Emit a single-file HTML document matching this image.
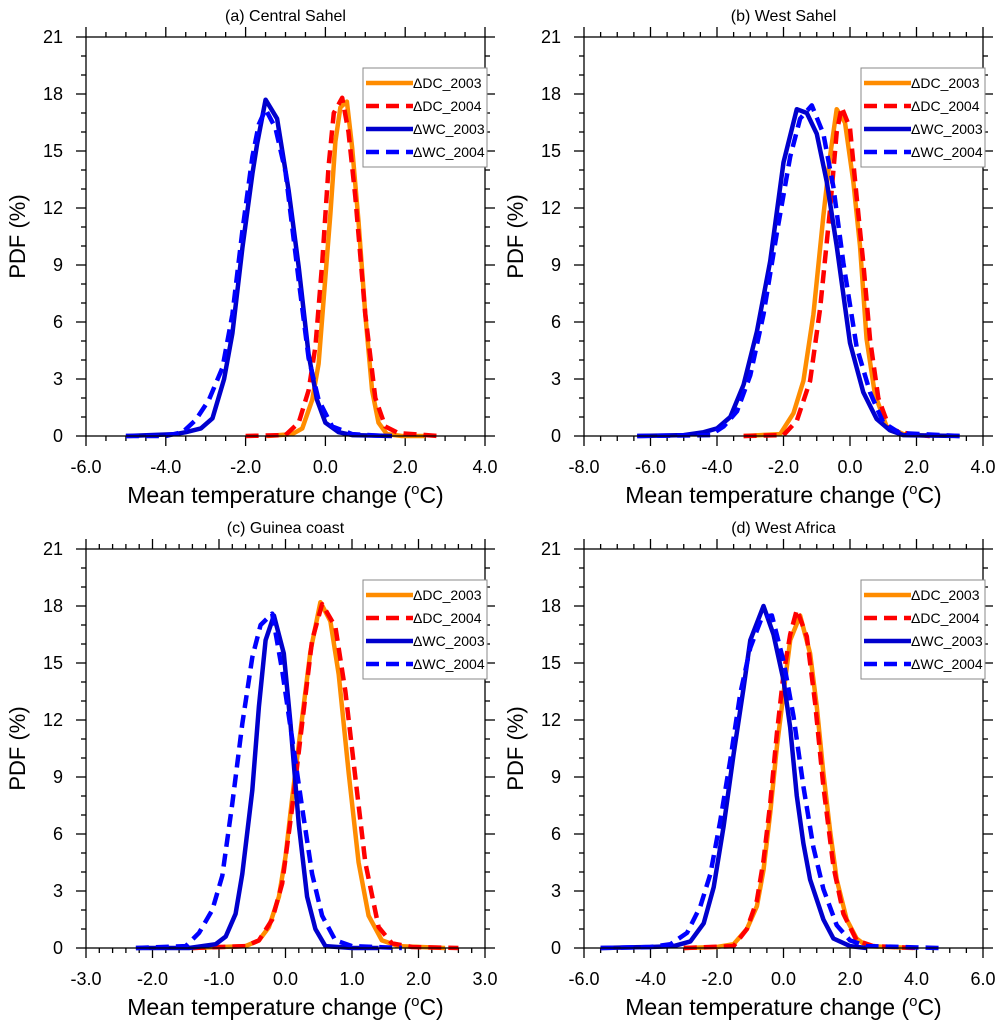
<!DOCTYPE html>
<html><head><meta charset="utf-8"><style>
html,body{margin:0;padding:0;background:#fff;}
svg{display:block;font-family:"Liberation Sans",Arial,sans-serif;}
</style></head><body>
<svg id="fig" width="1005" height="1032" viewBox="0 0 1005 1032" xmlns="http://www.w3.org/2000/svg"></svg>
<script>
// ---- Panel (a) Central Sahel ----
const aDC03x=[-1.46,-0.83,-0.58,-0.33,-0.17,-0.04,0.125,0.25,0.375,0.54,0.67,0.83,1.0,1.17,1.33,1.54,1.92,2.5];
const aDC03y=[0,0.1,0.4,1.9,3.8,7.3,11.7,15.5,17.3,17.6,15.2,11.3,6.4,2.4,0.7,0.1,0,0];
const aDC04x=[-2.0,-1.0,-0.67,-0.42,-0.25,-0.08,0.08,0.21,0.42,0.58,0.75,1.0,1.25,1.5,1.83,2.83];
const aDC04y=[0,0.05,0.7,2.4,4.7,9.1,14.2,17.0,17.8,16.0,12.6,6.4,2.0,0.5,0.15,0];
const aWC03x=[-5.0,-3.75,-3.5,-3.12,-2.83,-2.54,-2.33,-2.08,-1.83,-1.71,-1.5,-1.21,-0.92,-0.67,-0.42,-0.21,0,0.33,0.67,1.67];
const aWC03y=[0,0.1,0.2,0.4,0.93,3.0,5.4,9.9,13.8,15.4,17.7,16.7,12.9,8.9,4.3,1.9,0.7,0.2,0.05,0];
const aWC04x=[-5.0,-4.0,-3.58,-3.25,-2.92,-2.58,-2.33,-2.08,-1.83,-1.67,-1.5,-1.25,-1.0,-0.67,-0.42,-0.17,0.17,0.67,1.5];
const aWC04y=[0,0,0.2,0.84,1.9,3.6,6.4,10.8,14.7,16.4,17.2,16.2,13.9,8.2,4.1,1.9,0.5,0.1,0];
// ---- Panel (b) West Sahel ----
const bDC03x=[-3.2,-2.1,-1.7,-1.4,-1.1,-0.8,-0.6,-0.4,-0.15,0.1,0.3,0.5,0.75,1.1,1.6,2.4];
const bDC03y=[0,0.1,1.2,2.9,6.4,11.6,14.7,17.2,16.5,13.4,10.0,5.1,2.2,0.5,0.1,0];
const bDC04x=[-3.2,-2.0,-1.6,-1.2,-0.9,-0.6,-0.4,-0.25,0,0.2,0.4,0.6,0.85,1.2,1.8,2.4];
const bDC04y=[0,0.05,0.8,2.9,6.7,11.9,16.0,17.3,16.2,12.6,9.1,5.1,2.0,0.35,0.1,0];
const bWC03x=[-6.4,-5.0,-4.4,-4.0,-3.6,-3.2,-2.8,-2.4,-2.0,-1.6,-1.3,-1.0,-0.7,-0.4,0,0.4,0.8,1.2,1.6,3.3];
const bWC03y=[0,0.05,0.2,0.4,1.0,2.7,5.5,9.2,14.4,17.2,17.0,15.9,13.4,10.0,4.9,2.3,0.9,0.3,0.05,0];
const bWC04x=[-6.4,-4.2,-3.8,-3.4,-3.0,-2.6,-2.2,-1.8,-1.5,-1.15,-0.8,-0.5,-0.2,0.2,0.6,1.0,1.5,3.3];
const bWC04y=[0,0.05,0.5,1.3,3.2,6.4,10.7,14.7,16.7,17.4,15.9,13.1,9.1,4.7,2.3,0.7,0.15,0];
// ---- Panel (c) Guinea coast ----
const cDC03x=[-1.4,-0.6,-0.4,-0.25,-0.1,0,0.1,0.25,0.375,0.525,0.675,0.8,0.95,1.1,1.25,1.45,1.7,2.4];
const cDC03y=[0,0.1,0.4,1.1,2.7,4.8,7.9,12.1,15.6,18.2,17.2,14.4,9.2,4.5,1.7,0.4,0.1,0];
const cDC04x=[-1.4,-0.6,-0.4,-0.2,-0.05,0.1,0.25,0.4,0.55,0.75,0.9,1.05,1.2,1.4,1.6,1.9,2.6];
const cDC04y=[0,0.1,0.4,1.5,3.4,7.4,11.8,16.2,18.1,16.9,13.5,9.0,4.5,1.1,0.25,0.05,0];
const cWC03x=[-2.25,-1.45,-1.05,-0.9,-0.75,-0.65,-0.5,-0.4,-0.3,-0.175,-0.025,0.075,0.2,0.325,0.45,0.6,1.0,1.4];
const cWC03y=[0,0,0.2,0.6,1.8,3.9,8.3,12.7,16.2,17.5,15.5,11.8,6.5,2.7,1.0,0.1,0,0];
const cWC04x=[-2.25,-1.5,-1.3,-1.1,-0.95,-0.8,-0.65,-0.5,-0.375,-0.2,-0.05,0.1,0.25,0.4,0.55,0.75,1.0,1.75];
const cWC04y=[0,0.1,0.8,2.0,3.8,7.6,11.8,15.3,17.0,17.6,14.6,11.0,7.4,3.9,1.7,0.4,0.1,0];
// ---- Panel (d) West Africa ----
const dDC03x=[-3.0,-2.0,-1.5,-1.1,-0.8,-0.6,-0.4,-0.2,0,0.2,0.5,0.8,1.0,1.2,1.4,1.6,1.9,2.2,2.5,3.9];
const dDC03y=[0,0.05,0.2,1.0,2.2,4.1,7.1,10.6,13.4,16.2,17.5,15.5,12.7,9.2,6.2,3.6,1.5,0.5,0.1,0];
const dDC04x=[-3.0,-1.5,-1.1,-0.8,-0.6,-0.4,-0.2,0,0.2,0.4,0.7,0.95,1.2,1.5,1.8,2.2,2.7,4.0];
const dDC04y=[0,0.1,1.0,2.5,4.6,7.6,11.3,14.4,16.5,17.8,16.4,12.9,8.5,4.3,1.8,0.4,0.1,0];
const dWC03x=[-5.5,-4.0,-3.3,-2.8,-2.4,-2.1,-1.8,-1.5,-1.2,-1.0,-0.6,-0.3,0,0.2,0.4,0.6,0.8,1.2,1.5,2.0,2.5];
const dWC03y=[0,0.05,0.1,0.35,1.3,3.2,6.4,10.2,13.7,16.2,18.0,16.5,14.1,11.6,8.0,5.5,3.6,1.5,0.5,0.1,0];
const dWC04x=[-5.5,-4.0,-3.4,-2.9,-2.5,-2.2,-1.9,-1.6,-1.3,-1.0,-0.65,-0.35,0,0.3,0.6,0.9,1.2,1.6,2.0,2.5,4.7];
const dWC04y=[0,0.05,0.2,0.8,2.2,3.9,6.7,9.9,13.4,15.8,17.4,17.5,15.1,12.2,8.5,5.3,3.1,1.2,0.4,0.1,0];
// ---- axis tick labels ----
const yTicks=[0,3,6,9,12,15,18,21];
const aXTicks=[-6,-4,-2,0,2,4];
const bXTicks=[-8,-6,-4,-2,0,2,4];
const cXTicks=[-3,-2,-1,0,1,2,3];
const dXTicks=[-6,-4,-2,0,2,4,6];
const seriesNames=["\u0394DC_2003","\u0394DC_2004","\u0394WC_2003","\u0394WC_2004"];

const NS="http://www.w3.org/2000/svg";
const svg=document.getElementById('fig');
function mk(tag,attrs,parent){const e=document.createElementNS(NS,tag);for(const k in attrs)e.setAttribute(k,attrs[k]);(parent||svg).appendChild(e);return e;}
const styles=[
 {stroke:"#FF8C00",dash:""},
 {stroke:"#FF0000",dash:"13 7"},
 {stroke:"#0000CD",dash:""},
 {stroke:"#0000FF",dash:"13 7"}];

function panel(key,title,left,top,xmin,xmax,xTicks,minorStep,series){
  const W=399,H=399,right=left+W,bottom=top+H;
  const sx=v=>left+(v-xmin)/(xmax-xmin)*W;
  const sy=v=>bottom-v/21*H;
  const g=mk('g',{});
  
  
  const t=mk('text',{x:left+W/2,y:top-16,'font-size':16,'text-anchor':'middle'},g);
  t.textContent=title;
  
  
  const tk=mk('g',{stroke:'#000','stroke-width':1.3},g);
  
  
  for(let v=0;v<=21.001;v+=1){
    const maj=(Math.round(v)%3===0),L=maj?10:5,y=sy(v);
    mk('line',{x1:left-L,y1:y,x2:left,y2:y},tk);
    mk('line',{x1:right,y1:y,x2:right+L,y2:y},tk);
  }
  const n=Math.round((xmax-xmin)/minorStep);
  const majStep=xTicks[1]-xTicks[0];
  for(let i=0;i<=n;i++){
    const v=xmin+i*minorStep;
    const maj=Math.abs((v-xmin)/majStep-Math.round((v-xmin)/majStep))<1e-6;
    const L=maj?10:5,x=sx(v);
    mk('line',{x1:x,y1:bottom,x2:x,y2:bottom+L},tk);
    mk('line',{x1:x,y1:top-L,x2:x,y2:top},tk);
  }
  yTicks.forEach(v=>{
    const e=mk('text',{x:left-23,y:sy(v)+6,'font-size':18,'text-anchor':'end'},g);
    e.textContent=String(v);
    
    
  });
  xTicks.forEach(v=>{
    const e=mk('text',{x:sx(v),y:bottom+37,'font-size':18,'text-anchor':'middle'},g);
    e.textContent=v.toFixed(1);
    
    
  });
  const xt=mk('text',{x:left+W/2,y:bottom+67,'font-size':23,'text-anchor':'middle'},g);
  xt.innerHTML='Mean temperature change (<tspan dy="-9" font-size="15">o</tspan><tspan dy="9">C)</tspan>';
  
  
  const yt=mk('text',{x:0,y:0,'font-size':22,'text-anchor':'middle',transform:`translate(${left-61},${top+H/2}) rotate(-90)`},g);
  yt.textContent='PDF (%)';
  
  
  series.forEach((s,i)=>{
    const pts=s[0].map((xv,j)=>sx(xv).toFixed(1)+','+sy(s[1][j]).toFixed(1)).join(' ');
    const p=mk('polyline',{points:pts,fill:'none',stroke:styles[i].stroke,'stroke-width':4.5,'stroke-linejoin':'round','stroke-dasharray':styles[i].dash},g);
    
    
  });
  const fr=mk('rect',{x:left,y:top,width:W,height:H,fill:'none',stroke:'#000','stroke-width':1.3},g);
  
  
  const lg=mk('g',{},g);
  
  
  mk('rect',{x:left+277,y:top+31,width:124,height:99,fill:'#fff',stroke:'#888','stroke-width':1},lg);
  seriesNames.forEach((nm,i)=>{
    const y=top+46+i*23;
    const it=mk('g',{},lg);
    
    
    mk('line',{x1:left+280,y1:y,x2:left+327,y2:y,stroke:styles[i].stroke,'stroke-width':4.5,'stroke-dasharray':styles[i].dash},it);
    const tx=mk('text',{x:left+327,y:y+5,'font-size':14},it);
    tx.textContent=nm;
  });
}
panel('a','(a) Central Sahel',86,37,-6,4,aXTicks,0.5,[[aDC03x,aDC03y],[aDC04x,aDC04y],[aWC03x,aWC03y],[aWC04x,aWC04y]]);
panel('b','(b) West Sahel',584,37,-8,4,bXTicks,0.5,[[bDC03x,bDC03y],[bDC04x,bDC04y],[bWC03x,bWC03y],[bWC04x,bWC04y]]);
panel('c','(c) Guinea coast',86,549,-3,3,cXTicks,0.2,[[cDC03x,cDC03y],[cDC04x,cDC04y],[cWC03x,cWC03y],[cWC04x,cWC04y]]);
panel('d','(d) West Africa',584,549,-6,6,dXTicks,0.5,[[dDC03x,dDC03y],[dDC04x,dDC04y],[dWC03x,dWC03y],[dWC04x,dWC04y]]);
</script>
</body></html>
